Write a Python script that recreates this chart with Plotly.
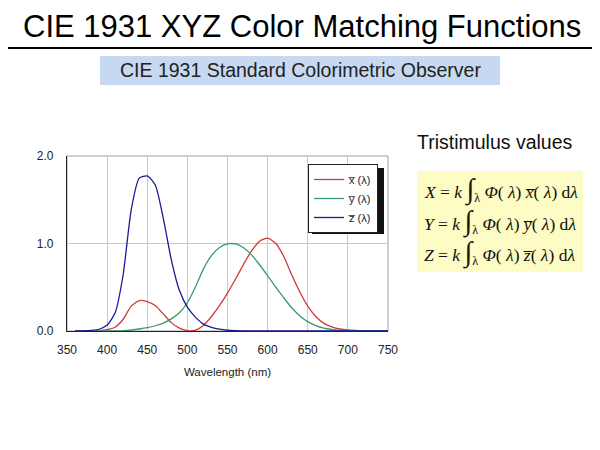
import plotly.graph_objects as go

# CIE 1931 2-degree colour matching functions (10 nm steps)
wavelength = [360, 370, 380, 390, 400, 410, 420, 430, 440, 450, 460, 470, 480, 490,
              500, 510, 520, 530, 540, 550, 560, 570, 580, 590, 600, 610, 620, 630,
              640, 650, 660, 670, 680, 690, 700, 710, 720, 730, 740, 750]
x_bar = [0.00013, 0.00042, 0.00137, 0.00424, 0.01431, 0.04351, 0.13438, 0.2839, 0.34828,
         0.3362, 0.2908, 0.19536, 0.09564, 0.03201, 0.0049, 0.0093, 0.06327, 0.1655,
         0.2904, 0.43345, 0.5945, 0.7621, 0.9163, 1.0263, 1.0622, 1.0026, 0.85445,
         0.6424, 0.4479, 0.2835, 0.1649, 0.0874, 0.04677, 0.0227, 0.01136, 0.00579,
         0.0029, 0.00144, 0.00069, 0.00033]
y_bar = [0.000004, 0.000012, 0.000039, 0.00012, 0.000396, 0.00121, 0.004, 0.0116, 0.023,
         0.038, 0.06, 0.09098, 0.13902, 0.20802, 0.323, 0.503, 0.71, 0.862, 0.954,
         0.99495, 0.995, 0.952, 0.87, 0.757, 0.631, 0.503, 0.381, 0.265, 0.175, 0.107,
         0.061, 0.032, 0.017, 0.00821, 0.0041, 0.00209, 0.00105, 0.00052, 0.00025, 0.00012]
z_bar = [0.000606, 0.001946, 0.00645, 0.02005, 0.06785, 0.2074, 0.6456, 1.3856, 1.74706,
         1.77211, 1.6692, 1.28764, 0.81295, 0.46518, 0.272, 0.1582, 0.07825, 0.04216,
         0.0203, 0.00875, 0.0039, 0.0021, 0.00165, 0.0011, 0.0008, 0.00034, 0.00019,
         0.00005, 0.00002, 0, 0, 0, 0, 0, 0, 0, 0, 0, 0, 0]

series_names = ["x\u0305 (\u03bb)", "y\u0305 (\u03bb)", "z\u0305 (\u03bb)"]
series_colors = ["#d03a3a", "#3a9a70", "#1a1a9a"]
x_ticks = [350, 400, 450, 500, 550, 600, 650, 700, 750]
y_ticks = [0.0, 1.0, 2.0]

W, H = 600, 450
OFF = 8  # page body margin
def px(x):
    return (x - OFF) / W
def py(y):
    return 1 - (y - OFF) / H

fig = go.Figure()
for vals, name, col in zip([x_bar, y_bar, z_bar], series_names, series_colors):
    fig.add_trace(go.Scatter(x=wavelength, y=vals, name=name, mode="lines",
                             line=dict(color=col, width=1.3, shape="spline", smoothing=0.6)))

font_sans = "Liberation Sans, Arial, sans-serif"
font_serif = "Liberation Serif, Times New Roman, serif"

fig.update_layout(
    width=W, height=H,
    margin=dict(l=0, r=0, t=0, b=0, autoexpand=False),
    paper_bgcolor="white", plot_bgcolor="white",
    font=dict(family=font_sans, color="#222"),
    xaxis=dict(domain=[px(67), px(388)], range=[350, 750], tickvals=x_ticks,
               ticktext=[str(v) for v in x_ticks], showgrid=True, gridcolor="#c8c8c8",
               gridwidth=1, zeroline=False, showline=True, linecolor="#222", linewidth=1.2,
               ticks="", tickfont=dict(size=12, color="#222"), automargin=False,
               ticklabelstandoff=7,
               title=dict(text="Wavelength (nm)", font=dict(size=11.5, color="#222"), standoff=12)),
    yaxis=dict(domain=[py(331), py(156)], range=[0, 2], tickvals=y_ticks,
               ticktext=["%.1f" % v for v in y_ticks], showgrid=True, gridcolor="#c8c8c8",
               gridwidth=1, zeroline=False, showline=True, linecolor="#222", linewidth=1.2,
               ticks="", tickfont=dict(size=12, color="#222"), ticklabelstandoff=10,
               automargin=False),
    legend=dict(x=px(308), y=py(164), xanchor="left", yanchor="top",
                bgcolor="white", bordercolor="#222", borderwidth=1,
                font=dict(size=11, color="#222"), tracegroupgap=0,
                itemwidth=30),
    showlegend=True,
)

shapes = []
# gray frame top/right
shapes.append(dict(type="rect", xref="paper", yref="paper", x0=px(67), x1=px(388),
                   y0=py(331), y1=py(156), line=dict(color="#a0a0a0", width=1), layer="below"))
# legend shadow
shapes.append(dict(type="rect", xref="paper", yref="paper", x0=px(312), x1=px(384),
                   y0=py(234), y1=py(168), line=dict(width=0), fillcolor="#111", layer="above"))
# title rule
shapes.append(dict(type="line", xref="paper", yref="paper", x0=px(0), x1=px(600),
                   y0=py(48), y1=py(48), line=dict(color="black", width=2)))
# subtitle box
shapes.append(dict(type="rect", xref="paper", yref="paper", x0=px(100), x1=px(500),
                   y0=py(85), y1=py(56), line=dict(width=0), fillcolor="#c6d9f1", layer="below"))
# yellow formula box
shapes.append(dict(type="rect", xref="paper", yref="paper", x0=px(417), x1=px(583),
                   y0=py(272), y1=py(171), line=dict(width=0), fillcolor="#fdfcc4", layer="below"))
fig.update_layout(shapes=shapes)

ann = []
def add_text(text, x, y, size, color, family, xanchor="center"):
    ann.append(dict(text=text, x=px(x), y=py(y), xref="paper", yref="paper",
                    xanchor=xanchor, yanchor="middle", showarrow=False, borderpad=0,
                    font=dict(size=size, color=color, family=family)))

add_text("CIE 1931 XYZ Color Matching Functions", 302, 26, 31, "black", font_sans)
add_text("CIE 1931 Standard Colorimetric Observer", 300, 70, 19.5, "#222", font_sans)
add_text("Tristimulus values", 495, 142, 19.5, "#111", font_sans)

integral = "<span style='font-size:28px'>\u222b</span><sub>\u03bb</sub>"
eqs = [("X", "x\u0305"), ("Y", "y\u0305"), ("Z", "z\u0305")]
eq_y = [190, 221, 252]
for (lhs, f), yy in zip(eqs, eq_y):
    txt = ("<i>%s</i> = <i>k</i> %s <i>\u03a6</i>( <i>\u03bb</i>) <i>%s</i>( <i>\u03bb</i>) d<i>\u03bb</i>"
           % (lhs, integral, f))
    add_text(txt, 423, yy, 17.5, "#111", font_serif, xanchor="left")
fig.update_layout(annotations=ann)

fig.write_html("out.html")
